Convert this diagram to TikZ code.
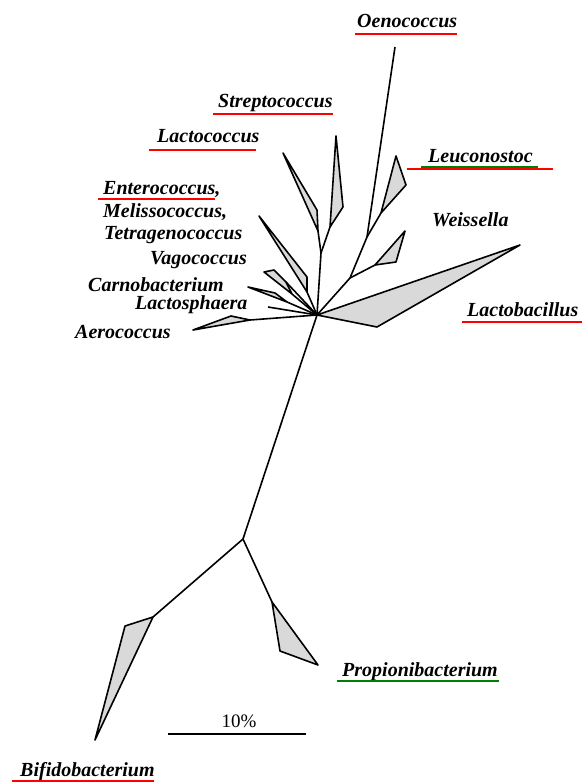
\documentclass[tikz,border=0pt]{standalone}
\usepackage{fontspec}
\setmainfont{Liberation Serif}
\definecolor{ulgreen}{RGB}{0,128,0}

\begin{document}
\begin{tikzpicture}[x=1pt,y=-1pt,line join=round,
    branch/.style={line width=1.6pt},
    clade/.style={line width=1.6pt,fill=gray!30},
    taxon/.style={anchor=base west,inner sep=0pt,font=\fontsize{20}{24}\selectfont\bfseries\itshape},
    redline/.style={red,line width=2pt},
    greenline/.style={ulgreen,line width=2pt}]
    \useasboundingbox (0,0) rectangle (582,783);

    % Csomópontok
    \coordinate (hub) at (317,315);
    \coordinate (forkS) at (321,253);
    \coordinate (forkW) at (350,278);
    \coordinate (forkL) at (367,237);
    \coordinate (forkB) at (243,539);

    % Streptococcus és Lactococcus
    \coordinate (baseS) at (330,227);
    \coordinate (tipS) at (336,136);
    \coordinate (shS) at (343,207);
    \coordinate (baseLc) at (318,231);
    \coordinate (tipLc) at (283,153);
    \coordinate (shLc) at (317,210);
    \draw[clade] (baseS) -- (tipS) -- (shS) -- cycle;
    \draw[clade] (baseLc) -- (tipLc) -- (shLc) -- cycle;
    \draw[branch] (hub) -- (forkS);
    \draw[branch] (forkS) -- (baseS);
    \draw[branch] (forkS) -- (baseLc);

    % Enterococcus csoport
    \coordinate (baseE) at (307,292);
    \coordinate (tipE) at (259,216);
    \coordinate (shE) at (307,277);
    \draw[clade] (baseE) -- (tipE) -- (shE) -- cycle;
    \draw[branch] (baseE) -- (hub);

    % Vagococcus
    \coordinate (tipV) at (264,272);
    \coordinate (shV) at (274,270);
    \coordinate (s2V) at (286,282);
    \coordinate (baseV) at (292,294);
    \draw[clade] (tipV) -- (shV) -- (s2V) -- (baseV) -- cycle;
    \draw[branch] (s2V) -- (hub);
    \draw[branch] (baseV) -- (hub);

    % Carnobacterium
    \coordinate (tipC) at (248,287);
    \coordinate (shC) at (275,293);
    \coordinate (baseC) at (287,302);
    \draw[clade] (tipC) -- (shC) -- (baseC) -- cycle;
    \draw[branch] (baseC) -- (hub);

    % Lactosphaera
    \coordinate (tipLs) at (268,307);
    \draw[branch] (tipLs) -- (hub);

    % Aerococcus
    \coordinate (tipA) at (193,330);
    \coordinate (shA) at (231,316);
    \coordinate (baseA) at (250,320);
    \draw[clade] (tipA) -- (shA) -- (baseA) -- cycle;
    \draw[branch] (baseA) -- (hub);

    % Oenococcus, Leuconostoc, Weissella
    \coordinate (tipO) at (395,47);
    \coordinate (baseL) at (381,213);
    \coordinate (tipL) at (396,156);
    \coordinate (shL) at (406,185);
    \coordinate (baseW) at (375,265);
    \coordinate (tipW) at (405,231);
    \coordinate (shW) at (396,262);
    \draw[clade] (baseL) -- (tipL) -- (shL) -- cycle;
    \draw[clade] (baseW) -- (tipW) -- (shW) -- cycle;
    \draw[branch] (hub) -- (forkW) -- (forkL) -- (tipO);
    \draw[branch] (forkL) -- (baseL);
    \draw[branch] (forkW) -- (baseW);

    % Lactobacillus
    \coordinate (tipLb) at (520,245);
    \coordinate (botLb) at (377,327);
    \draw[clade] (hub) -- (tipLb) -- (botLb) -- cycle;

    % Törzs lefelé
    \draw[branch] (hub) -- (forkB);

    % Bifidobacterium
    \coordinate (baseB) at (153,617);
    \coordinate (shB) at (125,626);
    \coordinate (tipB) at (95,740);
    \draw[branch] (forkB) -- (baseB);
    \draw[clade] (baseB) -- (shB) -- (tipB) -- cycle;

    % Propionibacterium
    \coordinate (baseP) at (272,602);
    \coordinate (shP) at (280,651);
    \coordinate (tipP) at (318,665);
    \draw[branch] (forkB) -- (baseP);
    \draw[clade] (baseP) -- (shP) -- (tipP) -- cycle;

    % Lépték
    \coordinate (barL) at (168,734);
    \coordinate (barR) at (306,734);
    \draw[line width=1.8pt] (barL) -- (barR);
    \node[anchor=base,inner sep=0pt,font=\fontsize{19}{22}\selectfont] (bar) at (239,727) {10\%};

    % Feliratok
    \node[taxon] (oeno) at (357,28) {Oenococcus};
    \node[taxon] (strep) at (218,108) {Streptococcus};
    \node[taxon] (lacto) at (157,143) {Lactococcus};
    \node[taxon] (entero) at (103,195) {Enterococcus,};
    \node[taxon] (meliss) at (103,218) {Melissococcus,};
    \node[taxon] (tetra) at (104,240) {Tetragenococcus};
    \node[taxon] (vago) at (150,265) {Vagococcus};
    \node[taxon] (carno) at (88,291) {Carnobacterium};
    \node[taxon] (lsph) at (135,309) {Lactosphaera};
    \node[taxon] (aero) at (75,338) {Aerococcus};
    \node[taxon] (weis) at (432,227) {Weissella};
    \node[taxon] (leuco) at (428,163) {Leuconostoc};
    \node[taxon] (lbac) at (467,316) {Lactobacillus};
    \node[taxon] (propi) at (342,676) {Propionibacterium};
    \node[taxon] (bifi) at (20,776) {Bifidobacterium};

    % Aláhúzások
    \draw[redline] (355,34) -- (457,34);
    \draw[redline] (213,114) -- (333,114);
    \draw[redline] (149,150) -- (256,150);
    \draw[redline] (98,199) -- (215,199);
    \draw[greenline] (421,167) -- (538,167);
    \draw[redline] (407,169) -- (553,169);
    \draw[redline] (462,322) -- (582,322);
    \draw[greenline] (337,681) -- (499,681);
    \draw[redline] (12,781) -- (154,781);
\end{tikzpicture}
\end{document}
